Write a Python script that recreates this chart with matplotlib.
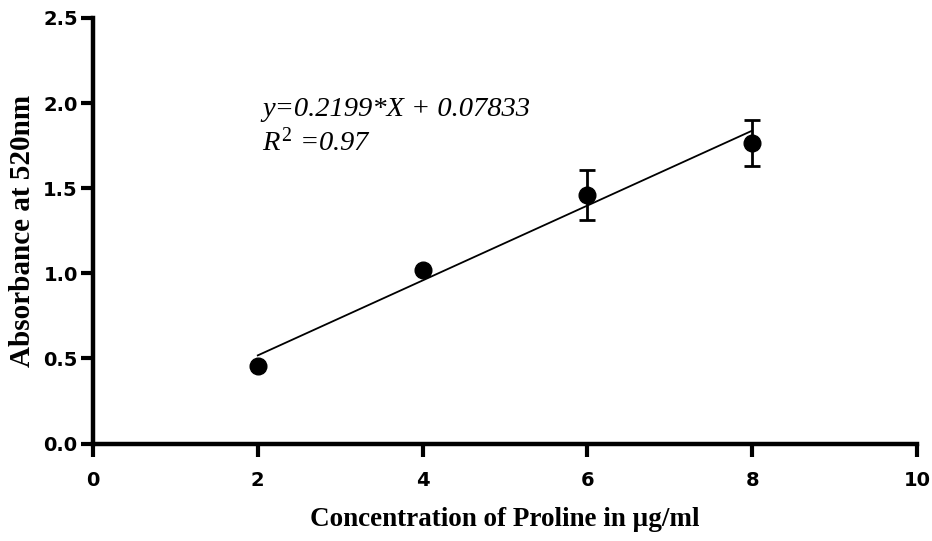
import numpy as np
import matplotlib
matplotlib.use("Agg")
import matplotlib.pyplot as plt
from matplotlib.ticker import FormatStrFormatter

# Proline standard curve: concentration (µg/ml) vs absorbance
concentration = [2, 4, 6, 8]
absorbance = [0.453, 1.018, 1.459, 1.765]
abs_sd = [0.0, 0.0, 0.145, 0.133]

slope = 0.2199
intercept = 0.07833
r_squared = 0.97

x_ticks = [0, 2, 4, 6, 8, 10]
y_ticks = [0.0, 0.5, 1.0, 1.5, 2.0, 2.5]

plt.rcParams["mathtext.fontset"] = "custom"
plt.rcParams["mathtext.rm"] = "Liberation Serif"
plt.rcParams["mathtext.it"] = "Liberation Serif:italic"

fig = plt.figure(figsize=(9.32, 5.41), dpi=100)
ax = fig.add_axes([0.0998, 0.180, 0.884, 0.787])

# regression line over the measured range
fit_x = np.array([min(concentration), max(concentration)])
ax.plot(fit_x, slope * fit_x + intercept, color="black", lw=1.3, zorder=2)

ax.errorbar(concentration, absorbance, yerr=abs_sd, fmt="o", color="black",
            markersize=12, elinewidth=2.0, capsize=5.8, capthick=2.0,
            zorder=3)

ax.set_xlim(0, 10)
ax.set_ylim(0, 2.5)
ax.set_xticks(x_ticks)
ax.set_yticks(y_ticks)
ax.yaxis.set_major_formatter(FormatStrFormatter("%.1f"))

for side in ("top", "right"):
    ax.spines[side].set_visible(False)
for side in ("left", "bottom"):
    ax.spines[side].set_linewidth(3.2)
ax.tick_params(axis="both", which="major", direction="out", length=9,
               width=3.0)
ax.tick_params(axis="x", pad=11)
ax.tick_params(axis="y", pad=2)
for lab in ax.get_xticklabels() + ax.get_yticklabels():
    lab.set_fontfamily("DejaVu Sans")
    lab.set_fontweight("bold")
    lab.set_fontsize(14)

ax.set_xlabel("Concentration of Proline in µg/ml", family="Liberation Serif",
              fontweight="bold", fontsize=19.5, labelpad=12)
ax.set_ylabel("Absorbance at 520nm", family="Liberation Serif",
              fontweight="bold", fontsize=21, labelpad=5)

ax.text(2.05, 1.924, f"y={slope}*X + {intercept}", family="Liberation Serif",
        style="italic", fontsize=20.5, ha="left", va="baseline")
ax.text(2.05, 1.718, f"$R^2$ ={r_squared}", family="Liberation Serif",
        style="italic", fontsize=20.5, ha="left", va="baseline")

fig.savefig("out.png", dpi=100)
